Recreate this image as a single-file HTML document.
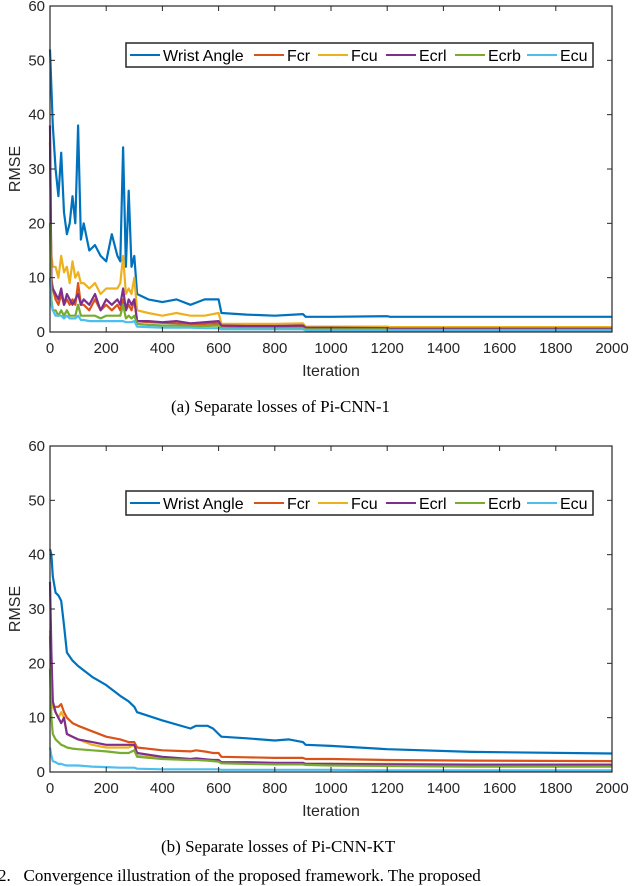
<!DOCTYPE html>
<html><head><meta charset="utf-8"><style>
body{margin:0;background:#fff;width:640px;height:880px;overflow:hidden;position:relative;font-family:"Liberation Sans",sans-serif}
svg{position:absolute;left:0;top:0}
.cap{position:absolute;font-family:"Liberation Serif",serif;font-size:17px;white-space:nowrap}
</style></head><body>
<svg id="chart" width="640" height="880" xmlns="http://www.w3.org/2000/svg"></svg>
<div class="cap" style="left:171px;top:397px">(a) Separate losses of Pi-CNN-1</div>
<div class="cap" style="left:161px;top:837px">(b) Separate losses of Pi-CNN-KT</div>
<div class="cap" style="left:-2px;top:866px">2.&nbsp;&nbsp;&nbsp;Convergence illustration of the proposed framework. The proposed</div>
<script>
const seriesNames=["Wrist Angle","Fcr","Fcu","Ecrl","Ecrb","Ecu"];
const colors=["#0072BD","#D95319","#EDB120","#7E2F8E","#77AC30","#4DBEEE"];
const xTicks=[0,200,400,600,800,1000,1200,1400,1600,1800,2000];
const yTicks=[0,10,20,30,40,50,60];
const iterA=[0,5,10,20,30,40,50,60,70,80,90,100,110,120,140,160,180,200,220,240,250,260,270,280,290,300,310,350,400,450,500,550,600,610,700,800,900,910,1000,1200,1210,1500,2000];
const wristA=[52,45,38,30,25,33,22,18,20,25,20,38,17,20,15,16,14,13,18,14,13,34,12,26,12,14,7,6,5.5,6,5,6,6,3.5,3.2,3,3.3,2.8,2.8,2.9,2.8,2.8,2.8];
const fcrA=[35,10,8,6,5,7,5,6,5,6,5,9,5,5,4,6,4,5,4,5,4,6,4,5,4,6,2,1.8,1.7,1.6,1.5,1.5,1.6,1.1,1,1,1.1,0.7,0.7,0.7,0.6,0.6,0.6];
const fcuA=[20,14,12,12,10,14,11,12,9,13,10,11,9,9,8,9,7,8,8,8,9,14,7,8,7,10,4,3.5,3,3.5,3,3,3.5,1.5,1.5,1.5,1.6,1,1,1,0.9,0.9,0.9];
const ecrlA=[38,9,8,7,6,8,5,7,6,5,6,7,5,6,5,7,4,6,5,6,5,8,4,6,5,6,2,2,1.8,2,1.6,1.8,2,1.2,1.1,1.1,1.2,0.8,0.8,0.7,0.6,0.6,0.6];
const ecrbA=[20,6,4,4,3,4,3,4,3,3,3,5,3,3,3,3,2.5,3,3,3,3,5,2.5,3,2.5,3,1.5,1.3,1.2,1.2,1.1,1.1,1.2,0.7,0.7,0.7,0.7,0.5,0.5,0.5,0.4,0.4,0.4];
const ecuA=[10,5,4,3,3,3,2.5,3,2.5,2.5,2.5,3,2.2,2.2,2,2,2,2,2,2,2,2,1.8,1.8,1.8,2,1,0.9,0.8,0.8,0.8,0.7,0.7,0.5,0.5,0.5,0.5,0.3,0.3,0.3,0.3,0.3,0.3];
const iterB=[0,5,10,20,30,40,50,60,80,100,150,200,250,280,300,310,400,500,520,560,580,600,610,700,800,850,900,910,1000,1200,1500,2000];
const wristB=[41,40,36,33,32.5,31.5,27,22,20.5,19.5,17.5,16,14,13,12,11,9.5,8,8.5,8.5,8,7,6.5,6.2,5.8,6,5.5,5,4.8,4.2,3.7,3.4];
const fcrB=[25,18,12,12,12,12.5,11,10,9,8.5,7.5,6.5,6,5.5,5.5,4.5,4,3.8,4,3.7,3.5,3.5,2.8,2.7,2.6,2.6,2.6,2.4,2.4,2.2,2.1,2.0];
const fcuB=[26,20,12,11,10,11,10,7,6.5,6,5,4.5,4.5,4.5,5,3,2.5,2.2,2.3,2.2,2.1,2,1.7,1.7,1.6,1.6,1.6,1.5,1.5,1.5,1.4,1.4];
const ecrlB=[35,22,13,11,10,9,10,7,6.5,6,5.5,5,5,5,5,3.5,2.8,2.4,2.5,2.3,2.2,2.2,1.8,1.8,1.7,1.7,1.7,1.5,1.5,1.4,1.3,1.3];
const ecrbB=[19,10,7,6,5.5,5,4.8,4.5,4.3,4.2,4,3.8,3.5,3.5,4,2.8,2.4,2.2,2.2,2.1,2,1.9,1.6,1.5,1.4,1.4,1.4,1.3,1.2,1.1,1.0,1.0];
const ecuB=[4.5,3,2,1.8,1.5,1.5,1.3,1.2,1.2,1.2,1,0.9,0.8,0.8,0.8,0.6,0.5,0.5,0.5,0.5,0.5,0.5,0.4,0.4,0.4,0.4,0.4,0.4,0.4,0.3,0.3,0.3];

const NS="http://www.w3.org/2000/svg";
const svg=document.getElementById('chart');
function mk(tag,attrs,parent){const e=document.createElementNS(NS,tag);for(const k in attrs)e.setAttribute(k,attrs[k]);(parent||svg).appendChild(e);return e;}

function drawPanel(id,top,iters,data){
  const L=50,R=612,T=top,B=top+326;
  const xs=v=>L+(v/2000)*(R-L);
  const ys=v=>B-(v/60)*(B-T);
  const g=mk('g',{});
  
  
  data.forEach((arr,i)=>{
    const d=arr.map((v,j)=>(j?'L':'M')+xs(iters[j]).toFixed(1)+','+ys(v).toFixed(1)).join(' ');
    const p=mk('path',{d:d,fill:'none',stroke:colors[i],'stroke-width':2.2,'stroke-linejoin':'round'},g);
    
    
  });
  const fr=mk('rect',{x:L,y:T,width:R-L,height:B-T,fill:'none',stroke:'#262626','stroke-width':1.2},g);
  
  
  xTicks.forEach(t=>{
    const x=xs(t);
    mk('line',{x1:x,x2:x,y1:B,y2:B-5,stroke:'#262626'},g);
    mk('line',{x1:x,x2:x,y1:T,y2:T+5,stroke:'#262626'},g);
    const tx=mk('text',{x:x,y:B+21,'text-anchor':'middle','font-size':15,fill:'#262626'},g);
    tx.textContent=t;
    
    
  });
  yTicks.forEach(t=>{
    const y=ys(t);
    mk('line',{x1:L,x2:L+5,y1:y,y2:y,stroke:'#262626'},g);
    mk('line',{x1:R,x2:R-5,y1:y,y2:y,stroke:'#262626'},g);
    const tx=mk('text',{x:L-5,y:y+5,'text-anchor':'end','font-size':15,fill:'#262626'},g);
    tx.textContent=t;
    
    
  });
  const xt=mk('text',{x:(L+R)/2,y:B+44,'text-anchor':'middle','font-size':16,fill:'#262626'},g);
  xt.textContent='Iteration';
  
  
  const yt=mk('text',{x:0,y:0,'text-anchor':'middle','font-size':16,fill:'#262626',transform:'translate(20,'+((T+B)/2)+') rotate(-90)'},g);
  yt.textContent='RMSE';
  
  
  const ly=id==='panel-a'?43:491;
  const lg=mk('g',{},g);
  
  
  mk('rect',{x:126,y:ly,width:467,height:24,fill:'#fff',stroke:'#262626','stroke-width':1.5},lg);
  const starts=[130,254,318,386,455,527];
  seriesNames.forEach((n,i)=>{
    const e=mk('g',{},lg);
    
    
    mk('line',{x1:starts[i],x2:starts[i]+30,y1:ly+12,y2:ly+12,stroke:colors[i],'stroke-width':2},e);
    const t=mk('text',{x:starts[i]+33,y:ly+18,'font-size':16,fill:'#000'},e);
    t.textContent=n;
  });
}
drawPanel('panel-a',6,iterA,[wristA,fcrA,fcuA,ecrlA,ecrbA,ecuA]);
drawPanel('panel-b',446,iterB,[wristB,fcrB,fcuB,ecrlB,ecrbB,ecuB]);
</script>
</body></html>
